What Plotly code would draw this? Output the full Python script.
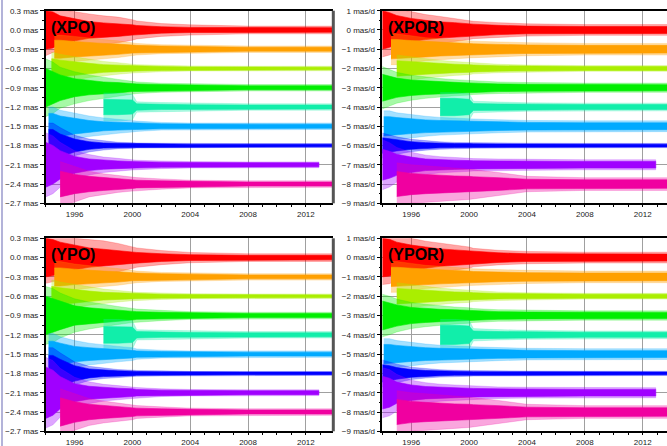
import plotly.graph_objects as go

# ---------------- data ----------------
KNOTS = [1994.0, 1994.5, 1995.0, 1996.0, 1997.0, 1998.0, 1999.0, 2000.0, 2000.3, 2002.0, 2004.0, 2008.0, 2013.9]
N = None

COLORS = ["#ff0000", "#ffa000", "#aaee00", "#00ee00", "#11eeaa", "#00aaff", "#0000ff", "#a000ff", "#f000a0"]
LIGHT = ["rgba(255,0,0,0.35)", "rgba(255,160,0,0.35)", "rgba(170,238,0,0.35)", "rgba(0,238,0,0.35)",
         "rgba(17,238,170,0.35)", "rgba(0,170,255,0.35)", "rgba(0,0,255,0.35)", "rgba(160,0,255,0.35)",
         "rgba(240,0,160,0.35)"]

POS_OFFSETS = [0.0, -0.3, -0.6, -0.9, -1.2, -1.5, -1.8, -2.1, -2.4]
RATE_OFFSETS = [0, -1, -2, -3, -4, -5, -6, -7, -8]

POS_TICKS = [0.3, 0.0, -0.3, -0.6, -0.9, -1.2, -1.5, -1.8, -2.1, -2.4, -2.7]
POS_LABELS = ["0.3 mas", "0.0 mas", "\u22120.3 mas", "\u22120.6 mas", "\u22120.9 mas", "\u22121.2 mas",
              "\u22121.5 mas", "\u22121.8 mas", "\u22122.1 mas", "\u22122.4 mas", "\u22122.7 mas"]
RATE_TICKS = [1, 0, -1, -2, -3, -4, -5, -6, -7, -8, -9]
RATE_LABELS = ["1 mas/d", "0 mas/d"] + ["\u2212%d mas/d" % k for k in range(1, 10)]

YEAR_TICKS = [1996, 2000, 2004, 2008, 2012]
YEAR_LABELS = ["1996", "2000", "2004", "2008", "2012"]

STARTS_POS = [1994.0, 1994.6, 1994.4, 1994.0, 1998.0, 1994.2, 1994.2, 1994.0, 1995.0]
STARTS_RATE = [1994.0, 1994.6, 1995.0, 1994.0, 1998.0, 1994.1, 1994.0, 1994.0, 1995.0]
ENDS = [2013.9, 2013.9, 2013.9, 2013.9, 2013.9, 2013.9, 2013.9, 2012.9, 2013.9]

# half widths: dense core band
XPO_CORE = [
    [0.30, 0.28, 0.22, 0.17, 0.13, 0.11, 0.10, 0.08, 0.07, 0.05, 0.04, 0.035, 0.035],
    [N, N, 0.14, 0.12, 0.10, 0.09, 0.08, 0.06, 0.06, 0.05, 0.04, 0.03, 0.03],
    [N, 0.15, 0.13, 0.10, 0.08, 0.06, 0.05, 0.04, 0.04, 0.03, 0.025, 0.02, 0.02],
    [0.30, 0.25, 0.20, 0.14, 0.11, 0.09, 0.08, 0.06, 0.06, 0.05, 0.04, 0.03, 0.03],
    [N, N, N, N, N, 0.12, 0.12, 0.11, 0.05, 0.04, 0.035, 0.03, 0.03],
    [N, 0.20, 0.16, 0.12, 0.09, 0.07, 0.06, 0.05, 0.05, 0.04, 0.035, 0.03, 0.03],
    [N, 0.25, 0.18, 0.10, 0.06, 0.04, 0.035, 0.03, 0.03, 0.025, 0.02, 0.02, 0.02],
    [0.35, 0.30, 0.22, 0.13, 0.09, 0.07, 0.06, 0.05, 0.05, 0.04, 0.035, 0.03, 0.03],
    [N, N, 0.20, 0.15, 0.12, 0.10, 0.08, 0.07, 0.06, 0.05, 0.04, 0.03, 0.03],
]
# half widths: outer spikes
XPO_SPIKE = [
    [0.40, 0.35, 0.32, 0.28, 0.25, 0.22, 0.20, 0.16, 0.14, 0.10, 0.08, 0.06, 0.06],
    [N, N, 0.22, 0.20, 0.17, 0.15, 0.13, 0.10, 0.09, 0.07, 0.06, 0.05, 0.05],
    [N, 0.25, 0.22, 0.18, 0.14, 0.11, 0.09, 0.07, 0.06, 0.05, 0.04, 0.035, 0.035],
    [0.45, 0.40, 0.32, 0.25, 0.20, 0.16, 0.13, 0.10, 0.09, 0.07, 0.06, 0.05, 0.05],
    [N, N, N, N, N, 0.22, 0.22, 0.20, 0.08, 0.07, 0.06, 0.05, 0.05],
    [N, 0.30, 0.25, 0.20, 0.16, 0.13, 0.11, 0.09, 0.08, 0.06, 0.05, 0.05, 0.05],
    [N, 0.35, 0.28, 0.16, 0.10, 0.07, 0.05, 0.045, 0.04, 0.035, 0.03, 0.03, 0.03],
    [0.50, 0.45, 0.35, 0.22, 0.16, 0.12, 0.10, 0.08, 0.07, 0.06, 0.05, 0.045, 0.045],
    [N, N, 0.35, 0.28, 0.20, 0.16, 0.13, 0.11, 0.10, 0.08, 0.06, 0.05, 0.05],
]
YPO_CORE = [
    [0.30, 0.28, 0.24, 0.19, 0.15, 0.13, 0.11, 0.09, 0.08, 0.06, 0.045, 0.035, 0.035],
    [N, N, 0.14, 0.12, 0.10, 0.09, 0.08, 0.06, 0.06, 0.05, 0.04, 0.03, 0.03],
    [N, 0.15, 0.13, 0.10, 0.08, 0.06, 0.05, 0.04, 0.04, 0.03, 0.025, 0.02, 0.02],
    [0.30, 0.26, 0.22, 0.15, 0.12, 0.10, 0.09, 0.07, 0.06, 0.05, 0.04, 0.03, 0.03],
    [N, N, N, N, N, 0.13, 0.13, 0.12, 0.05, 0.04, 0.035, 0.03, 0.03],
    [N, 0.20, 0.17, 0.12, 0.10, 0.08, 0.07, 0.06, 0.05, 0.04, 0.035, 0.03, 0.03],
    [N, 0.28, 0.22, 0.12, 0.07, 0.05, 0.04, 0.035, 0.03, 0.025, 0.02, 0.02, 0.02],
    [0.40, 0.35, 0.25, 0.14, 0.10, 0.08, 0.07, 0.06, 0.05, 0.04, 0.035, 0.03, 0.03],
    [N, N, 0.22, 0.16, 0.12, 0.10, 0.08, 0.07, 0.06, 0.05, 0.04, 0.03, 0.03],
]
YPO_SPIKE = [
    [0.40, 0.38, 0.35, 0.30, 0.28, 0.26, 0.22, 0.17, 0.15, 0.11, 0.08, 0.06, 0.06],
    [N, N, 0.24, 0.20, 0.17, 0.15, 0.13, 0.10, 0.09, 0.07, 0.06, 0.05, 0.05],
    [N, 0.25, 0.22, 0.18, 0.14, 0.11, 0.09, 0.07, 0.06, 0.05, 0.04, 0.035, 0.035],
    [0.45, 0.42, 0.35, 0.26, 0.21, 0.17, 0.14, 0.11, 0.10, 0.08, 0.06, 0.05, 0.05],
    [N, N, N, N, N, 0.24, 0.24, 0.22, 0.08, 0.07, 0.06, 0.05, 0.05],
    [N, 0.32, 0.27, 0.21, 0.17, 0.14, 0.12, 0.10, 0.08, 0.06, 0.05, 0.05, 0.05],
    [N, 0.40, 0.32, 0.18, 0.11, 0.08, 0.06, 0.05, 0.045, 0.04, 0.03, 0.03, 0.03],
    [0.55, 0.50, 0.38, 0.24, 0.17, 0.13, 0.11, 0.09, 0.08, 0.06, 0.05, 0.045, 0.045],
    [N, N, 0.36, 0.28, 0.21, 0.17, 0.14, 0.12, 0.10, 0.08, 0.06, 0.05, 0.05],
]
XPOR_CORE = [
    [1.00, 0.90, 0.75, 0.60, 0.50, 0.42, 0.38, 0.32, 0.30, 0.24, 0.20, 0.18, 0.18],
    [N, N, 0.50, 0.45, 0.40, 0.35, 0.33, 0.30, 0.28, 0.25, 0.22, 0.20, 0.20],
    [N, N, 0.40, 0.35, 0.30, 0.25, 0.22, 0.20, 0.18, 0.14, 0.12, 0.10, 0.10],
    [0.70, 0.60, 0.50, 0.40, 0.35, 0.30, 0.28, 0.25, 0.24, 0.20, 0.18, 0.16, 0.16],
    [N, N, N, N, N, 0.45, 0.45, 0.40, 0.18, 0.16, 0.14, 0.13, 0.13],
    [N, 0.50, 0.45, 0.38, 0.33, 0.30, 0.28, 0.26, 0.25, 0.22, 0.20, 0.18, 0.18],
    [0.40, 0.35, 0.28, 0.20, 0.15, 0.12, 0.10, 0.10, 0.09, 0.08, 0.08, 0.07, 0.07],
    [0.80, 0.70, 0.55, 0.40, 0.30, 0.26, 0.24, 0.22, 0.21, 0.20, 0.18, 0.17, 0.17],
    [N, N, 0.65, 0.55, 0.50, 0.45, 0.42, 0.40, 0.38, 0.33, 0.25, 0.22, 0.22],
]
XPOR_SPIKE = [
    [1.40, 1.30, 1.10, 0.95, 0.80, 0.70, 0.60, 0.50, 0.45, 0.38, 0.32, 0.28, 0.28],
    [N, N, 0.80, 0.70, 0.60, 0.55, 0.50, 0.45, 0.42, 0.38, 0.34, 0.30, 0.30],
    [N, N, 0.70, 0.60, 0.50, 0.42, 0.36, 0.32, 0.28, 0.22, 0.18, 0.15, 0.15],
    [1.10, 0.95, 0.80, 0.65, 0.55, 0.48, 0.42, 0.38, 0.35, 0.30, 0.27, 0.24, 0.24],
    [N, N, N, N, N, 0.75, 0.75, 0.70, 0.30, 0.26, 0.22, 0.20, 0.20],
    [N, 0.80, 0.70, 0.60, 0.52, 0.46, 0.42, 0.40, 0.38, 0.34, 0.30, 0.28, 0.28],
    [0.65, 0.55, 0.45, 0.32, 0.24, 0.19, 0.16, 0.15, 0.14, 0.13, 0.12, 0.11, 0.11],
    [1.30, 1.15, 0.90, 0.65, 0.50, 0.42, 0.38, 0.34, 0.32, 0.30, 0.28, 0.26, 0.26],
    [N, N, 1.10, 1.00, 0.95, 0.90, 0.85, 0.80, 0.75, 0.60, 0.40, 0.33, 0.33],
]
YPOR_CORE = [
    [1.00, 0.95, 0.80, 0.65, 0.55, 0.45, 0.40, 0.35, 0.32, 0.25, 0.20, 0.18, 0.18],
    [N, N, 0.50, 0.45, 0.40, 0.36, 0.33, 0.30, 0.28, 0.25, 0.22, 0.20, 0.20],
    [N, N, 0.40, 0.35, 0.30, 0.26, 0.22, 0.20, 0.18, 0.14, 0.12, 0.10, 0.10],
    [0.75, 0.65, 0.55, 0.42, 0.36, 0.32, 0.30, 0.26, 0.24, 0.20, 0.18, 0.16, 0.16],
    [N, N, N, N, N, 0.50, 0.50, 0.45, 0.20, 0.17, 0.15, 0.13, 0.13],
    [N, 0.50, 0.45, 0.38, 0.33, 0.30, 0.28, 0.26, 0.25, 0.22, 0.20, 0.18, 0.18],
    [0.45, 0.40, 0.30, 0.20, 0.15, 0.12, 0.10, 0.10, 0.09, 0.08, 0.08, 0.07, 0.07],
    [0.85, 0.75, 0.55, 0.40, 0.32, 0.28, 0.25, 0.23, 0.22, 0.20, 0.18, 0.17, 0.17],
    [N, N, 0.65, 0.55, 0.50, 0.45, 0.42, 0.40, 0.38, 0.33, 0.25, 0.22, 0.22],
]
YPOR_SPIKE = [
    [1.40, 1.35, 1.20, 1.00, 0.85, 0.75, 0.65, 0.55, 0.48, 0.38, 0.32, 0.28, 0.28],
    [N, N, 0.80, 0.70, 0.60, 0.55, 0.50, 0.45, 0.42, 0.38, 0.34, 0.30, 0.30],
    [N, N, 0.70, 0.60, 0.50, 0.42, 0.36, 0.32, 0.28, 0.22, 0.18, 0.15, 0.15],
    [1.10, 1.00, 0.85, 0.68, 0.58, 0.50, 0.44, 0.40, 0.36, 0.30, 0.27, 0.24, 0.24],
    [N, N, N, N, N, 0.80, 0.80, 0.75, 0.32, 0.27, 0.23, 0.20, 0.20],
    [N, 0.80, 0.70, 0.60, 0.52, 0.46, 0.42, 0.40, 0.38, 0.34, 0.30, 0.28, 0.28],
    [0.70, 0.60, 0.48, 0.32, 0.24, 0.19, 0.16, 0.15, 0.14, 0.13, 0.12, 0.11, 0.11],
    [1.30, 1.20, 0.95, 0.65, 0.52, 0.44, 0.40, 0.36, 0.34, 0.30, 0.28, 0.26, 0.26],
    [N, N, 1.10, 1.00, 0.95, 0.90, 0.85, 0.80, 0.75, 0.60, 0.40, 0.33, 0.33],
]

PANEL_TITLES = ["(XPO)", "(XPOR)", "(YPO)", "(YPOR)"]

# ---------------- figure ----------------
W, H = 667, 446
LEFT_X = (45.7 / W, 333.3 / W)
RIGHT_X = (382.3 / W, 1.0)
TOP_Y = (1 - 203.3 / H, 1 - 10.7 / H)
BOT_Y = (1 - 431.3 / H, 1 - 238.3 / H)

panels = [
    dict(core=XPO_CORE, spike=XPO_SPIKE, offs=POS_OFFSETS, starts=STARTS_POS, ticks=POS_TICKS,
         labels=POS_LABELS, yr=[-2.7, 0.3], minor=0.15, dx=LEFT_X, dy=TOP_Y, xend=2013.9, left=True),
    dict(core=XPOR_CORE, spike=XPOR_SPIKE, offs=RATE_OFFSETS, starts=STARTS_RATE, ticks=RATE_TICKS,
         labels=RATE_LABELS, yr=[-9, 1], minor=0.5, dx=RIGHT_X, dy=TOP_Y, xend=2013.68, left=False),
    dict(core=YPO_CORE, spike=YPO_SPIKE, offs=POS_OFFSETS, starts=STARTS_POS, ticks=POS_TICKS,
         labels=POS_LABELS, yr=[-2.7, 0.3], minor=0.15, dx=LEFT_X, dy=BOT_Y, xend=2013.9, left=True),
    dict(core=YPOR_CORE, spike=YPOR_SPIKE, offs=RATE_OFFSETS, starts=STARTS_RATE, ticks=RATE_TICKS,
         labels=RATE_LABELS, yr=[-9, 1], minor=0.5, dx=RIGHT_X, dy=BOT_Y, xend=2013.68, left=False),
]


def band(widths, offset, start, end):
    xs, hw = [], []
    for k, w in zip(KNOTS, widths):
        if w is None or k > end:
            continue
        if not xs and k > start:
            xs.append(start)
            hw.append(w)
        if k >= start:
            xs.append(k)
            hw.append(w)
    if xs[-1] < end:
        xs.append(end)
        hw.append(hw[-1])
    up = [offset + w for w in hw]
    lo = [offset - w for w in hw]
    return xs + xs[::-1], up + lo[::-1]


fig = go.Figure()
shapes = []
annotations = []
font = "Liberation Sans, Arial, sans-serif"

for i, p in enumerate(panels):
    n = i + 1
    xa = "x" if n == 1 else "x%d" % n
    ya = "y" if n == 1 else "y%d" % n
    for j in range(9):
        for table, col in ((p["spike"], LIGHT[j]), (p["core"], COLORS[j])):
            bx, by = band(table[j], p["offs"][j], p["starts"][j], ENDS[j])
            fig.add_trace(go.Scatter(x=bx, y=by, fill="toself", fillcolor=col, mode="lines",
                                     line=dict(width=0.6, color=col), xaxis=xa, yaxis=ya,
                                     showlegend=False, hoverinfo="skip"))
    xkey = "xaxis" if n == 1 else "xaxis%d" % n
    ykey = "yaxis" if n == 1 else "yaxis%d" % n
    fig.layout[xkey] = dict(
        domain=list(p["dx"]), anchor=ya, range=[1994.0, p["xend"]],
        tickmode="array", tickvals=YEAR_TICKS, ticktext=YEAR_LABELS,
        ticks="outside", ticklen=2, tickcolor="#000", tickwidth=1,
        showgrid=True, gridcolor="#a0a0a0", gridwidth=1,
        showline=True, linecolor="#000", linewidth=1.5, mirror=True,
        minor=dict(tickmode="linear", tick0=1994, dtick=1, ticks="outside", ticklen=2,
                   tickcolor="#000", showgrid=False),
        tickfont=dict(size=8, color="#222", family=font), zeroline=False, automargin=False,
    )
    fig.layout[ykey] = dict(
        domain=list(p["dy"]), anchor=xa, range=p["yr"],
        tickmode="array", tickvals=p["ticks"], ticktext=p["labels"],
        ticks="outside", ticklen=4, tickcolor="#000", tickwidth=1,
        showgrid=True, gridcolor="#a0a0a0", gridwidth=1,
        showline=True, linecolor="#000", linewidth=1.5, mirror=False,
        minor=dict(tickmode="linear", tick0=p["yr"][0], dtick=p["minor"], ticks="outside",
                   ticklen=2, tickcolor="#000", showgrid=False),
        tickfont=dict(size=8, color="#222", family=font), zeroline=False, automargin=False,
    )
    if p["left"]:
        shapes.append(dict(type="line", xref=xa + " domain", yref=ya + " domain",
                           x0=1, x1=1, y0=0, y1=1, line=dict(color="#555", width=3)))
    annotations.append(dict(text="<b>%s</b>" % PANEL_TITLES[i], xref=xa + " domain", yref=ya + " domain",
                            x=0.012, y=0.915, xanchor="left", yanchor="middle", showarrow=False,
                            font=dict(size=16, color="#000", family=font)))

shapes.append(dict(type="line", xref="paper", yref="paper", x0=0.003, x1=0.003, y0=0, y1=1,
                   line=dict(color="#9a9acc", width=1.5)))

fig.update_layout(width=W, height=H, margin=dict(l=0, r=0, t=0, b=0),
                  paper_bgcolor="white", plot_bgcolor="white",
                  shapes=shapes, annotations=annotations)

fig.write_html("out.html", config={"displayModeBar": False},
               post_script="document.body.style.margin='0';document.body.style.overflow='hidden';")
